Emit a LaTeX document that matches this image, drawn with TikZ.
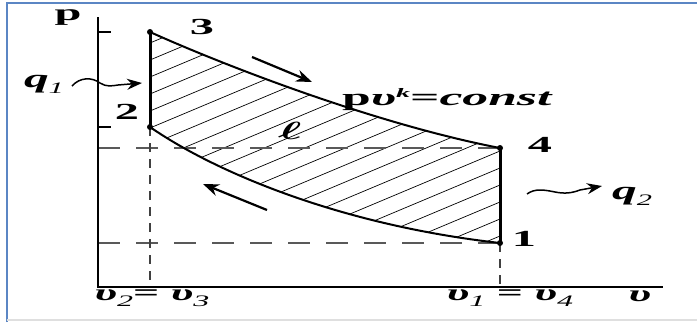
\documentclass[tikz,border=0pt]{standalone}
\usepackage{fontspec}
\setmainfont{Liberation Serif}
\usetikzlibrary{arrows.meta}
\definecolor{frameblue}{HTML}{5B86C4}
\newcommand{\hstr}[2][2]{\scalebox{#1}[1]{#2}}
\newcommand{\sbs}[1]{\raisebox{-6pt}{\fontsize{16}{16}\selectfont\mdseries\itshape #1}}
\begin{document}
\begin{tikzpicture}[x=1pt,y=-1pt,
  lbl/.style={inner sep=0pt, font=\fontsize{23}{25}\selectfont\bfseries},
  dot/.style={circle, fill=black, inner sep=0pt, minimum size=6pt},
  hatch/.style={line width=0.7pt},
  curve/.style={line width=2pt},
  iso/.style={line width=3pt},
  axis/.style={line width=2pt},
  hguide/.style={color=black!65, line width=1.3pt, dash pattern=on 22pt off 16pt},
  vguide/.style={color=black!75, line width=1.3pt, dash pattern=on 9pt off 7pt},
  flow/.style={line width=2.2pt, -{Stealth[length=16pt,width=12pt]}},
  heat/.style={line width=1.5pt, -{Stealth[length=15pt,width=11pt]}}]
\useasboundingbox (0,0) rectangle (697,322);
% frame
\draw[frameblue, line width=2pt] (6.5,322) -- (6.5,3) -- (697,3);
\draw[gray!25, line width=1.5pt] (6.5,320) -- (697,320);
% key points
\coordinate (P1) at (500,243);
\coordinate (P2) at (150,127);
\coordinate (P3) at (150,32);
\coordinate (P4) at (500,148);
\coordinate (O) at (98,287);
\coordinate (Ytop) at (98,17);
\coordinate (Xend) at (663,287);
\coordinate (Y3) at (98,32);
\coordinate (Y2) at (98,127);
\coordinate (Y4) at (98,148);
\coordinate (Y1) at (98,243);
\coordinate (X23) at (150,287);
\coordinate (X14) at (500,287);
% hatching
\begin{scope}
\clip (P3) .. controls (230,68) and (380,125) .. (P4) -- (P1) .. controls (340,225) and (215,172) .. (P2) -- cycle;
\foreach \b in {43,60,...,420} \draw[hatch] (150,\b) -- ++(350,-147);
\end{scope}
% guides
\draw[hguide] (Y4) -- (P4);
\draw[hguide] (Y1) -- (P1);
\draw[vguide] (P2) -- (X23);
\draw[vguide] (P1) -- (X14);
% axes
\draw[axis] (Ytop) -- (O) -- (Xend);
\draw[line width=1.2pt] (Y3) -- ++(13,0);
\draw[line width=1.2pt] (Y2) -- ++(13,0);
% cycle
\draw[curve] (P3) .. controls (230,68) and (380,125) .. (P4);
\draw[curve] (P1) .. controls (340,225) and (215,172) .. (P2);
\draw[iso] (P2) -- (P3);
\draw[iso] (P4) -- (P1);
\node[dot] (d1) at (P1) {};
\node[dot] (d2) at (P2) {};
\node[dot] (d3) at (P3) {};
\node[dot] (d4) at (P4) {};
% flow arrows
\coordinate (a1s) at (252,57);
\coordinate (a1e) at (312,82);
\coordinate (a2s) at (267,210);
\coordinate (a2e) at (203,184);
\draw[flow] (a1s) -- (a1e);
\draw[flow] (a2s) -- (a2e);
% heat arrows
\coordinate (h1s) at (72,86);
\coordinate (h1e) at (142,83);
\draw[heat] (h1s) .. controls (80,77) and (92,77) .. (100,83) .. controls (106,87) and (112,86) .. (118,85) -- (h1e);
\coordinate (h2s) at (527,194);
\coordinate (h2e) at (602,186);
\draw[heat] (h2s) .. controls (535,188) and (545,190) .. (555,192) .. controls (565,194) and (572,193) .. (580,190) -- (h2e);
% labels
\node[lbl] (lp) at (68,18) {\hstr[2.1]{p}};
\node[lbl] (l3) at (202,27) {\hstr[2.1]{3}};
\node[lbl] (l2) at (127,112) {\hstr[2.1]{2}};
\node[lbl] (l4) at (540,145) {\hstr[2.1]{4}};
\node[lbl] (l1) at (524,239) {\hstr[2.1]{1}};
\node[lbl, anchor=west, font=\fontsize{24}{26}\selectfont\bfseries] (lc) at (342,100) {\hstr[2.15]{p\textit{υ}\raisebox{8pt}{\fontsize{13}{13}\selectfont\itshape k}=\textit{const}}};
\node[lbl] (lell) at (290,131) {\hstr{\boldmath$\ell$}};
\node[lbl, font=\fontsize{26}{28}\selectfont\bfseries] (lq1) at (44,84) {\hstr[1.9]{\textit{q}\sbs{1}}};
\node[lbl, font=\fontsize{26}{28}\selectfont\bfseries] (lq2) at (632,196) {\hstr[1.9]{\textit{q}\sbs{2}}};
\node[lbl] (lx23) at (152,298) {\hstr[2.0]{\textit{υ}\sbs{2}= \textit{υ}\sbs{3}}};
\node[lbl] (lx14) at (510,298) {\hstr[2.0]{\textit{υ}\sbs{1} = \textit{υ}\sbs{4}}};
\node[lbl] (lx) at (640,296) {\hstr[2.0]{\textit{υ}}};
\end{tikzpicture}
\end{document}
